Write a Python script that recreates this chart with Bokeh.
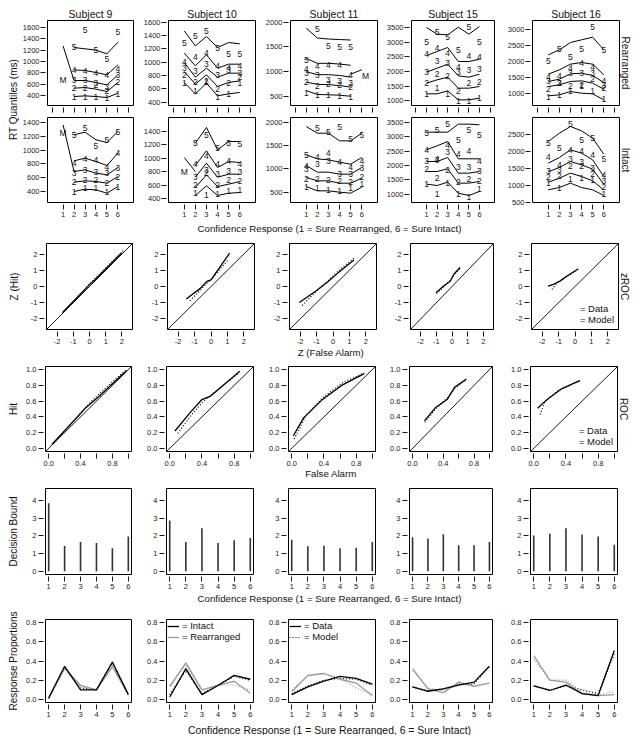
import numpy as np
from bokeh.plotting import figure
from bokeh.models import (Range1d, FixedTicker, Label, Slope, Legend, LegendItem, PrintfTickFormatter,
                          Title, Spacer)
from bokeh.layouts import row, column
from bokeh.embed import file_html
from bokeh.resources import INLINE
from bokeh.core.properties import value

# ---------------- data ----------------
subjects = ["Subject 9", "Subject 10", "Subject 11", "Subject 15", "Subject 16"]
conf = [1, 2, 3, 4, 5, 6]
rt_top_ticks = [0, 1, 2, 3, 4, 5, 6, 7]

rear_yticks_s9 = [400, 600, 800, 1000, 1200, 1400, 1600]
rear_yticks_s10 = [400, 600, 800, 1000, 1200, 1400, 1600]
rear_yticks_s11 = [500, 1000, 1500, 2000]
rear_yticks_s15 = [1000, 1500, 2000, 2500, 3000, 3500]
rear_yticks_s16 = [1000, 1500, 2000, 2500, 3000]
intact_yticks_s9 = [400, 600, 800, 1000, 1200, 1400]
intact_yticks_s10 = [400, 600, 800, 1000, 1200, 1400]
intact_yticks_s11 = [500, 1000, 1500, 2000]
intact_yticks_s15 = [1000, 1500, 2000, 2500, 3000, 3500]
intact_yticks_s16 = [500, 1000, 1500, 2000, 2500]
rear_ylim = [(224, 1723), (350, 1625), (318, 2034), (841, 3739), (615, 3271)]
intact_ylim = [(241, 1472), (346, 1608), (279, 2100), (709, 3674), (500, 2988)]

# RT quantiles (ms): model lines (q1..q5) and data labels (q1..q5)
s9_rear_model = [[None, 382, 394, 382, 365, 441], [None, 529, 541, 512, 471, 629],
                 [None, 665, 665, 629, 588, 765], [None, 853, 841, 806, 765, 941],
                 [None, 1247, 1224, 1200, 1135, 1341]]
s9_rear_data = [[None, 382, 382, 371, 365, 429], [None, 529, 529, 580, 488, 640],
                [None, 665, 665, 618, 559, 765], [None, 853, 835, 800, 760, 870],
                [None, 1247, 1559, 1206, 1047, 1529]]
s9_rear_m_x, s9_rear_m_y, s9_rear_m_label = [1, 2], [1276, 665], [1, 680]

s9_intact_model = [[None, 400, 434, 424, 376, 472], [None, 535, 555, 545, 521, 617],
                   [None, 690, 714, 666, 642, 748], [None, 844, 883, 835, 777, 956],
                   [None, 1221, 1260, 1149, 1110, 1270]]
s9_intact_data = [[None, 390, 448, 458, 400, 463], [None, 540, 560, 560, 530, 610],
                  [None, 666, 714, 676, 661, 739], [None, 811, 870, 850, 753, 965],
                  [None, 1221, 1318, 1062, 1149, 1260]]
s9_intact_m_x, s9_intact_m_y, s9_intact_m_label = [1, 2], [1366, 690], [1, 1245]

s10_rear_model = [[695, 525, 685, 495, 525, 545], [860, 670, 810, 635, 695, 720],
                  [995, 775, 910, 775, 835, 835], [1135, 945, 1110, 910, 970, 970],
                  [1470, 1245, 1385, 1220, 1295, 1275]]
s10_rear_data = [[690, 575, 700, 475, 520, 690], [810, 710, 720, 595, 690, 780],
                 [910, 870, 970, 810, 885, 835], [1010, 1075, 1135, 945, 910, 945],
                 [1295, 1395, 1475, 1220, 1125, 1125]]
s10_rear_m_x, s10_rear_m_y, s10_rear_m_label = [], [], None

s10_intact_model = [[None, 450, 593, 450, 484, 494], [None, 568, 756, 583, 618, 657],
                    [None, 722, 930, 722, 766, 766], [None, 895, 1113, 865, 954, 940],
                    [None, 1227, 1460, 1128, 1252, 1252]]
s10_intact_data = [[None, 484, 450, 475, 519, 530], [None, 610, 780, 610, 680, 670],
                   [None, 730, 830, 766, 816, 806], [None, 920, 1029, 920, 969, 920],
                   [None, 1227, 1341, 1153, 1227, 1212]]
s10_intact_m_x, s10_intact_m_y, s10_intact_m_label = [1, 2], [1014, 806], [1, 806]

s11_rear_model = [[620, 540, 535, 525, 505, None], [790, 745, 740, 720, 690, None],
                  [1000, 940, 940, 925, 890, None], [1270, 1170, 1170, 1155, 1130, None],
                  [1880, 1680, 1660, 1650, 1640, None]]
s11_rear_data = [[580, 520, 530, 500, 480, None], [800, 720, 760, 740, 700, None],
                 [970, 940, 840, 820, 780, None], [1050, 1110, 1140, 1140, 940, None],
                 [1230, 1860, 1510, 1490, 1490, None]]
s11_rear_m_x, s11_rear_m_y, s11_rear_m_label = [5, 6], [950, 1040], [6.35, 920]

s11_intact_model = [[621, 529, 529, 500, 479, 607], [814, 743, 743, 693, 693, 800],
                    [1071, 929, 929, 886, 886, 1029], [1300, 1214, 1193, 1143, 1100, 1243],
                    [1907, 1764, 1764, 1600, 1600, 1764]]
s11_intact_data = [[621, 586, 550, 529, 586, 671], [779, 780, 764, 740, 720, 820],
                   [1000, 1107, 1171, 900, 900, 1014], [1071, 1264, 1336, 1157, 1050, 1171],
                   [1300, 1871, 1786, 1886, 1643, 1729]]
s11_intact_m_x, s11_intact_m_y, s11_intact_m_label = [], [], None

s15_rear_model = [[1239, 1239, 1341, 1034, 1034, 1091], [1602, 1716, 1807, 1432, 1432, 1489],
                  [1977, 2114, 2250, 1852, 1807, 1909], [2545, 2682, 2818, 2341, 2341, 2420],
                  [3500, 3273, 3250, 3511, 3273, 3534]]
s15_rear_data = [[1239, 1432, 1239, 1011, 1011, 1091], [1602, 1909, 1830, 1320, 1602, 1636],
                 [1977, 2375, 2284, 1977, 2057, 2080], [2591, 2818, 2625, 2170, 2545, 2511],
                 [3020, 3330, 3160, 2720, 3510, 2990]]
s15_rear_m_x, s15_rear_m_y, s15_rear_m_label = [], [], None

s15_intact_model = [[1349, 1302, 1419, 1035, 953, 1093], [1791, 1791, 1884, 1384, 1384, 1442],
                    [2140, 2140, 2279, 1733, 1733, 1791], [2547, 2686, 2837, 2233, 2233, 2233],
                    [3163, 3163, 3163, 3442, 3442, 3419]]
s15_intact_data = [[1349, 1000, 1384, 1000, 884, 1186], [1872, 1558, 1849, 1419, 1523, 1442],
                   [2140, 2198, 2488, 1930, 1930, 1791], [2547, 2233, 2721, 2407, 2512, 2140],
                   [3128, 3244, 3442, 2872, 3244, 3070]]
s15_intact_m_x, s15_intact_m_y, s15_intact_m_label = [], [], None

s16_rear_model = [[917, 948, 1052, 1000, 979, 792], [1208, 1260, 1365, 1385, 1312, 1125],
                  [1365, 1437, 1604, 1625, 1552, 1333], [1594, 1729, 1906, 1958, 1906, 1573],
                  [2198, 2354, 2583, 2667, 2750, 2354]]
s16_rear_data = [[896, 948, 1073, 1229, 1083, 812], [1125, 1312, 1229, 1240, 1437, 1156],
                 [1396, 1333, 1625, 1646, 1625, 1260], [1500, 1542, 1802, 1958, 1833, 1396],
                 [1990, 2375, 2125, 2375, 3083, 2354]]
s16_rear_m_x, s16_rear_m_y, s16_rear_m_label = [], [], None

s16_intact_model = [[871, 939, 1066, 939, 871, 705], [1095, 1212, 1359, 1261, 1134, 871],
                    [1400, 1524, 1700, 1602, 1476, 1037], [1651, 1817, 2041, 1944, 1749, 1261],
                    [2285, 2529, 2724, 2598, 2383, 1915]]
s16_intact_data = [[1060, 939, 1200, 1230, 1150, 760], [1260, 1290, 1560, 1580, 1340, 950],
                   [1420, 1460, 1770, 1700, 1520, 1120], [1820, 1600, 2045, 2010, 1900, 1300],
                   [2256, 2090, 2793, 2334, 2402, 1778]]
s16_intact_m_x, s16_intact_m_y, s16_intact_m_label = [], [], None

# zROC (z of false alarm, z of hit)
zroc_ticks = [-2, -1, 0, 1, 2]
s9_zfa_data, s9_zhit_data = [-1.67, -0.28, -0.02, 0.35, 1.98], [-1.62, -0.18, 0.10, 0.42, 2.08]
s9_zfa_model, s9_zhit_model = [-1.60, -0.25, 0.00, 0.31, 2.10], [-1.55, -0.12, 0.15, 0.47, 2.22]
s10_zfa_data, s10_zhit_data = [-1.51, -0.67, -0.25, 0.00, 1.13], [-0.77, -0.13, 0.31, 0.41, 2.05]
s10_zfa_model, s10_zhit_model = [-1.28, -0.67, -0.20, 0.05, 1.05], [-0.88, -0.25, 0.25, 0.47, 1.65]
s11_zfa_data, s11_zhit_data = [-2.05, -1.04, -0.33, 0.31, 1.28], [-0.99, -0.28, 0.28, 0.84, 1.64]
s11_zfa_model, s11_zhit_model = [-1.88, -0.92, -0.31, 0.31, 1.28], [-1.17, -0.20, 0.36, 0.95, 1.75]
s15_zfa_data, s15_zhit_data = [-1.02, -0.52, -0.13, 0.13, 0.52], [-0.39, 0.05, 0.31, 0.77, 1.17]
s15_zfa_model, s15_zhit_model = [-0.99, -0.52, -0.13, 0.13, 0.50], [-0.44, 0.00, 0.36, 0.71, 1.13]
s16_zfa_data, s16_zhit_data = [-1.64, -1.28, -0.92, -0.39, 0.18], [0.03, 0.15, 0.33, 0.71, 1.08]
s16_zfa_model, s16_zhit_model = [-1.40, -1.08, -0.52, -0.13, 0.20], [-0.18, 0.25, 0.61, 0.84, 1.08]

# ROC (false alarm, hit)
roc_ticks = [0.0, 0.2, 0.4, 0.6, 0.8, 1.0]
roc_x_label_ticks = [0.0, 0.4, 0.8]
roc_x_minor_ticks = [0.2, 0.6, 1.0]
s9_fa_data, s9_hit_data = [0.04, 0.38, 0.47, 0.63, 0.98], [0.05, 0.42, 0.52, 0.66, 0.99]
s9_fa_model, s9_hit_model = [0.06, 0.40, 0.50, 0.62, 0.96], [0.06, 0.45, 0.56, 0.68, 0.99]
s10_fa_data, s10_hit_data = [0.065, 0.25, 0.40, 0.50, 0.87], [0.22, 0.45, 0.62, 0.66, 0.98]
s10_fa_model, s10_hit_model = [0.10, 0.25, 0.42, 0.52, 0.86], [0.19, 0.40, 0.60, 0.68, 0.96]
s11_fa_data, s11_hit_data = [0.02, 0.15, 0.37, 0.62, 0.90], [0.16, 0.39, 0.61, 0.80, 0.95]
s11_fa_model, s11_hit_model = [0.03, 0.18, 0.38, 0.62, 0.90], [0.12, 0.42, 0.64, 0.83, 0.96]
s15_fa_data, s15_hit_data = [0.155, 0.30, 0.45, 0.55, 0.70], [0.35, 0.52, 0.62, 0.78, 0.88]
s15_fa_model, s15_hit_model = [0.16, 0.30, 0.45, 0.55, 0.69], [0.33, 0.50, 0.64, 0.76, 0.87]
s16_fa_data, s16_hit_data = [0.05, 0.10, 0.18, 0.35, 0.57], [0.51, 0.56, 0.63, 0.76, 0.86]
s16_fa_model, s16_hit_model = [0.08, 0.14, 0.30, 0.45, 0.58], [0.43, 0.60, 0.73, 0.80, 0.86]

# decision bounds
bound_ticks = [0, 1, 2, 3, 4]
s9_bound = [3.85, 1.43, 1.65, 1.60, 1.31, 1.97]
s10_bound = [2.87, 1.65, 2.44, 1.60, 1.75, 1.88]
s11_bound = [1.78, 1.41, 1.45, 1.30, 1.33, 1.65]
s15_bound = [1.93, 1.85, 2.10, 1.48, 1.48, 1.65]
s16_bound = [2.03, 2.12, 2.44, 2.08, 1.97, 1.50]

# response proportions
prop_ticks = [0.0, 0.2, 0.4, 0.6, 0.8]
s9_intact_prop = [0.014, 0.345, 0.10, 0.10, 0.39, 0.05]
s9_rear_prop = [0.01, 0.33, 0.145, 0.10, 0.34, 0.05]
s9_intact_prop_model = [0.01, 0.33, 0.12, 0.10, 0.38, 0.05]
s9_rear_prop_model = [0.01, 0.31, 0.14, 0.10, 0.36, 0.06]
s10_intact_prop = [0.025, 0.32, 0.05, 0.145, 0.25, 0.21]
s10_rear_prop = [0.13, 0.38, 0.10, 0.145, 0.19, 0.065]
s10_intact_prop_model = [0.05, 0.30, 0.06, 0.15, 0.24, 0.20]
s10_rear_prop_model = [0.15, 0.36, 0.10, 0.15, 0.15, 0.10]
s11_intact_prop = [0.05, 0.13, 0.19, 0.24, 0.22, 0.16]
s11_rear_prop = [0.08, 0.25, 0.27, 0.21, 0.17, 0.04]
s11_intact_prop_model = [0.06, 0.14, 0.20, 0.22, 0.21, 0.15]
s11_rear_prop_model = [0.10, 0.24, 0.27, 0.22, 0.12, 0.05]
s15_intact_prop = [0.13, 0.085, 0.11, 0.15, 0.18, 0.345]
s15_rear_prop = [0.32, 0.11, 0.07, 0.18, 0.135, 0.17]
s15_intact_prop_model = [0.13, 0.09, 0.11, 0.16, 0.16, 0.35]
s15_rear_prop_model = [0.30, 0.12, 0.09, 0.16, 0.14, 0.17]
s16_intact_prop = [0.14, 0.093, 0.15, 0.06, 0.04, 0.51]
s16_rear_prop = [0.455, 0.20, 0.18, 0.06, 0.04, 0.05]
s16_intact_prop_model = [0.14, 0.10, 0.14, 0.10, 0.06, 0.47]
s16_rear_prop_model = [0.42, 0.20, 0.20, 0.08, 0.05, 0.08]

xlabel_conf = "Confidence Response (1 = Sure Rearranged, 6 = Sure Intact)"

# ---------------- tables built from the arrays ----------------
rear_yticks = [rear_yticks_s9, rear_yticks_s10, rear_yticks_s11, rear_yticks_s15, rear_yticks_s16]
intact_yticks = [intact_yticks_s9, intact_yticks_s10, intact_yticks_s11, intact_yticks_s15, intact_yticks_s16]
rear_models = [s9_rear_model, s10_rear_model, s11_rear_model, s15_rear_model, s16_rear_model]
rear_datas = [s9_rear_data, s10_rear_data, s11_rear_data, s15_rear_data, s16_rear_data]
rear_ms = [(s9_rear_m_x, s9_rear_m_y, s9_rear_m_label), (s10_rear_m_x, s10_rear_m_y, s10_rear_m_label),
           (s11_rear_m_x, s11_rear_m_y, s11_rear_m_label), (s15_rear_m_x, s15_rear_m_y, s15_rear_m_label),
           (s16_rear_m_x, s16_rear_m_y, s16_rear_m_label)]
intact_models = [s9_intact_model, s10_intact_model, s11_intact_model, s15_intact_model, s16_intact_model]
intact_datas = [s9_intact_data, s10_intact_data, s11_intact_data, s15_intact_data, s16_intact_data]
intact_ms = [(s9_intact_m_x, s9_intact_m_y, s9_intact_m_label), (s10_intact_m_x, s10_intact_m_y, s10_intact_m_label),
             (s11_intact_m_x, s11_intact_m_y, s11_intact_m_label), (s15_intact_m_x, s15_intact_m_y, s15_intact_m_label),
             (s16_intact_m_x, s16_intact_m_y, s16_intact_m_label)]
zrocs = [(s9_zfa_data, s9_zhit_data, s9_zfa_model, s9_zhit_model),
         (s10_zfa_data, s10_zhit_data, s10_zfa_model, s10_zhit_model),
         (s11_zfa_data, s11_zhit_data, s11_zfa_model, s11_zhit_model),
         (s15_zfa_data, s15_zhit_data, s15_zfa_model, s15_zhit_model),
         (s16_zfa_data, s16_zhit_data, s16_zfa_model, s16_zhit_model)]
rocs = [(s9_fa_data, s9_hit_data, s9_fa_model, s9_hit_model),
        (s10_fa_data, s10_hit_data, s10_fa_model, s10_hit_model),
        (s11_fa_data, s11_hit_data, s11_fa_model, s11_hit_model),
        (s15_fa_data, s15_hit_data, s15_fa_model, s15_hit_model),
        (s16_fa_data, s16_hit_data, s16_fa_model, s16_hit_model)]
bounds = [s9_bound, s10_bound, s11_bound, s15_bound, s16_bound]
props = [(s9_intact_prop, s9_rear_prop, s9_intact_prop_model, s9_rear_prop_model),
         (s10_intact_prop, s10_rear_prop, s10_intact_prop_model, s10_rear_prop_model),
         (s11_intact_prop, s11_rear_prop, s11_intact_prop_model, s11_rear_prop_model),
         (s15_intact_prop, s15_rear_prop, s15_intact_prop_model, s15_rear_prop_model),
         (s16_intact_prop, s16_rear_prop, s16_intact_prop_model, s16_rear_prop_model)]

# ---------------- geometry / style ----------------
FONT = "Liberation Sans"
FW = [86, 87, 87, 83, 87]
BL = [39, 30, 30, 29, 33]
BR = [5, 5, 5, 5, 12]
TOTAL_W = 623
SHIFT = 5
RT_STRIP_W = 14
G1 = (12, 85, 11)
G2 = (1, 85, 20)
G3 = (9, 86, 18)
G4 = (7, 85, 17)
G5 = (8, 86, 18)
G6 = (15, 83, 19)
GRAY = "#9a9a9a"
INK = "#1a1a1a"


def make_panel(ci, geom, xr, yr, left=None, title=None):
    top, fh, bot = geom
    p = figure(frame_width=FW[ci], frame_height=fh, x_range=xr, y_range=yr,
               min_border_left=BL[ci] if left is None else left, min_border_right=BR[ci],
               min_border_top=top, min_border_bottom=bot, title=title,
               output_backend="svg", toolbar_location=None, tools="")
    p.grid.visible = False
    p.outline_line_color = "black"
    p.outline_line_width = 1
    if title is not None:
        p.title.align = "center"
        p.title.text_font = FONT
        p.title.text_font_size = "10.5px"
        p.title.text_font_style = "normal"
        p.title.text_color = "#111111"
        p.title.standoff = 1
        p.title.offset = 0
    return p


def style_axis(ax, ticks, fmt="%d", minor=None, show_labels=True, standoff=2):
    ax.ticker = FixedTicker(ticks=ticks, minor_ticks=minor or [])
    ax.axis_line_color = None
    ax.major_tick_in = -2
    ax.major_tick_out = 7
    ax.major_tick_line_color = INK
    ax.major_tick_line_width = 1
    if minor:
        ax.minor_tick_in = -2
        ax.minor_tick_out = 7
        ax.minor_tick_line_color = INK
        ax.minor_tick_line_width = 1
    else:
        ax.minor_tick_line_color = None
    ax.formatter = PrintfTickFormatter(format=fmt)
    ax.major_label_text_font = FONT
    ax.major_label_text_font_size = "7.5px"
    ax.major_label_text_color = INK
    ax.major_label_standoff = standoff
    if not show_labels:
        ax.major_label_text_font_size = "1px"
        ax.major_label_text_alpha = 0
        ax.major_label_standoff = 0


def y_label(ax, text, standoff):
    ax.axis_label = text
    ax.axis_label_text_font = FONT
    ax.axis_label_text_font_size = "10px"
    ax.axis_label_text_font_style = "normal"
    ax.axis_label_text_color = "#111111"
    ax.axis_label_standoff = standoff


def side_title(p, text):
    p.add_layout(Title(text=text, align="center", text_font=FONT, text_font_size="10px",
                       text_font_style="normal", text_color="#111111", standoff=0, offset=0), "right")


def strip(w, h, x, y, text, size):
    """Blank canvas holding one horizontal text label."""
    p = figure(width=w, height=h, x_range=Range1d(0, 1), y_range=Range1d(0, 1), title=None,
               x_axis_type=None, y_axis_type=None, min_border=0,
               output_backend="svg", toolbar_location=None, tools="")
    p.outline_line_color = None
    p.add_layout(Label(x=x, y=y, x_units="screen", y_units="screen", text=text,
                       text_align="center", text_baseline="middle", text_font=FONT,
                       text_font_size=size, text_color="#111111"))
    return p


def draw_rt(p, model, data, m):
    for q in range(5):
        p.line(conf, np.array(model[q], dtype=float), line_color="black", line_width=1)
    mx, my, mlab = m
    if mx:
        p.line(mx, my, line_color="black", line_width=1)
    for q in range(5):
        xs = [c for c, v in zip(conf, data[q]) if v is not None]
        ys = [v for v in data[q] if v is not None]
        p.text(x=xs, y=ys, text=[str(q + 1)] * len(xs), text_font=value(FONT),
               text_font_size=value("8.5px"), text_align="center", text_baseline="middle",
               text_color="#111111")
    if mlab:
        p.text(x=[mlab[0]], y=[mlab[1]], text=["M"], text_font=value(FONT),
               text_font_size=value("8.5px"), text_align="center", text_baseline="middle",
               text_color="#111111")


def style_legend(lg, margin, padding):
    lg.border_line_color = None
    lg.background_fill_alpha = 0
    lg.label_text_font = FONT
    lg.label_text_font_size = "9.5px"
    lg.label_text_color = "#111111"
    lg.glyph_width = 12
    lg.glyph_height = 10
    lg.label_height = 10
    lg.label_standoff = 3
    lg.spacing = 0
    lg.margin = margin
    lg.padding = padding


def data_model_legend(p):
    r1 = p.line(x=[], y=[], line_color="#666666", line_width=1)
    r2 = p.line(x=[], y=[], line_color="#666666", line_width=1, line_dash="1 2")
    lg = Legend(items=[LegendItem(label="= Data", renderers=[r1]),
                       LegendItem(label="= Model", renderers=[r2])],
                location="bottom_right")
    style_legend(lg, margin=4, padding=1)
    p.add_layout(lg)


# ---------------- rows 1 / 2 : RT quantiles ----------------
row1, row2 = [], []
for ci in range(5):
    left = BL[ci] - RT_STRIP_W if ci == 0 else None
    p = make_panel(ci, G1, Range1d(-0.42, 7.42), Range1d(*rear_ylim[ci]), left, title=subjects[ci])
    style_axis(p.xaxis[0], rt_top_ticks, show_labels=False)
    style_axis(p.yaxis[0], rear_yticks[ci], standoff=1)
    draw_rt(p, rear_models[ci], rear_datas[ci], rear_ms[ci])
    if ci == 4:
        side_title(p, "Rearranged")
    row1.append(p)

    p = make_panel(ci, G2, Range1d(-0.42, 7.42), Range1d(*intact_ylim[ci]), left)
    style_axis(p.xaxis[0], conf)
    style_axis(p.yaxis[0], intact_yticks[ci], standoff=1)
    draw_rt(p, intact_models[ci], intact_datas[ci], intact_ms[ci])
    if ci == 4:
        side_title(p, "Intact")
    row2.append(p)

h12 = sum(G1) + sum(G2)
rt_strip = figure(width=RT_STRIP_W, height=h12, x_range=Range1d(0, 1), y_range=Range1d(0, 1), title=None,
                  x_axis_type=None, y_axis_type=None, min_border_left=0, min_border_right=0,
                  min_border_top=0, min_border_bottom=h12 - 2 * 94,
                  output_backend="svg", toolbar_location=None, tools="")
rt_strip.outline_line_color = None
rt_strip.add_layout(Title(text="RT Quantiles (ms)", align="center", text_font=FONT, text_font_size="10px",
                          text_font_style="normal", text_color="#111111", standoff=0, offset=0), "left")
rt_block = row(rt_strip, column(row(*row1), row(*row2)))
strip_a = strip(TOTAL_W, 12, 324, 6, xlabel_conf, "9.7px")

# ---------------- row 3 : zROC ----------------
row3 = []
for ci in range(5):
    p = make_panel(ci, G3, Range1d(-2.65, 2.65), Range1d(-2.65, 2.65))
    style_axis(p.xaxis[0], zroc_ticks)
    style_axis(p.yaxis[0], zroc_ticks)
    p.add_layout(Slope(gradient=1, y_intercept=0, line_color="black", line_width=0.9))
    zfa, zh, zfam, zhm = zrocs[ci]
    p.line(zfa, zh, line_color="black", line_width=1.3)
    p.line(zfam, zhm, line_color="black", line_width=1.2, line_dash="1 2")
    if ci == 0:
        y_label(p.yaxis[0], "Z (Hit)", 8)
    if ci == 4:
        data_model_legend(p)
        side_title(p, "zROC")
    row3.append(p)
strip_z = strip(TOTAL_W, 12, 325.5, 7, "Z (False Alarm)", "9.7px")

# ---------------- row 4 : ROC ----------------
row4 = []
for ci in range(5):
    p = make_panel(ci, G4, Range1d(-0.04, 1.04), Range1d(-0.04, 1.04))
    style_axis(p.xaxis[0], roc_x_label_ticks, fmt="%.1f", minor=roc_x_minor_ticks)
    style_axis(p.yaxis[0], roc_ticks, fmt="%.1f")
    p.add_layout(Slope(gradient=1, y_intercept=0, line_color="black", line_width=0.9))
    fa, h, fam, hm = rocs[ci]
    p.line(fa, h, line_color="black", line_width=1.3)
    p.line(fam, hm, line_color="black", line_width=1.2, line_dash="1 2")
    if ci == 0:
        y_label(p.yaxis[0], "Hit", 4)
    if ci == 4:
        data_model_legend(p)
        side_title(p, "ROC")
    row4.append(p)
strip_fa = strip(TOTAL_W, 12, 325.5, 7, "False Alarm", "9.7px")

# ---------------- row 5 : decision bounds ----------------
row5 = []
for ci in range(5):
    p = make_panel(ci, G5, Range1d(0.8, 6.2), Range1d(-0.18, 4.68))
    style_axis(p.xaxis[0], conf)
    style_axis(p.yaxis[0], bound_ticks)
    p.segment(x0=conf, y0=0, x1=conf, y1=bounds[ci], line_color="#333333", line_width=1.6)
    if ci == 0:
        y_label(p.yaxis[0], "Decision Bound", 10)
    row5.append(p)
strip_b = strip(TOTAL_W, 12, 324, 6, xlabel_conf, "9.7px")

# ---------------- row 6 : response proportions ----------------
row6 = []
for ci in range(5):
    p = make_panel(ci, G6, Range1d(0.8, 6.2), Range1d(-0.032, 0.832))
    style_axis(p.xaxis[0], conf)
    style_axis(p.yaxis[0], prop_ticks, fmt="%.1f")
    ip, rp, ipm, rpm = props[ci]
    p.line(conf, rpm, line_color=GRAY, line_width=1.2, line_dash="1 2")
    r_im = p.line(conf, ipm, line_color="black", line_width=1.2, line_dash="1 2")
    r_r = p.line(conf, rp, line_color=GRAY, line_width=1.3)
    r_i = p.line(conf, ip, line_color="black", line_width=1.3)
    if ci == 0:
        y_label(p.yaxis[0], "Response Proportions", 4)
    if ci == 1:
        lg = Legend(items=[LegendItem(label="= Intact", renderers=[r_i]),
                           LegendItem(label="= Rearranged", renderers=[r_r])], location="top_left")
        style_legend(lg, margin=1, padding=2)
        p.add_layout(lg)
    if ci == 2:
        lg = Legend(items=[LegendItem(label="= Data", renderers=[r_i]),
                           LegendItem(label="= Model", renderers=[r_im])], location="top_left")
        style_legend(lg, margin=1, padding=1)
        p.add_layout(lg)
    row6.append(p)
strip_c = strip(TOTAL_W, 14, 324, 5.5, xlabel_conf, "10.4px")

body = column(rt_block, strip_a, row(*row3), strip_z, row(*row4), strip_fa,
              row(*row5), strip_b, row(*row6), strip_c)
layout = column(Spacer(height=SHIFT), row(Spacer(width=SHIFT), body))

with open("out.html", "w") as f:
    f.write(file_html(layout, INLINE))
